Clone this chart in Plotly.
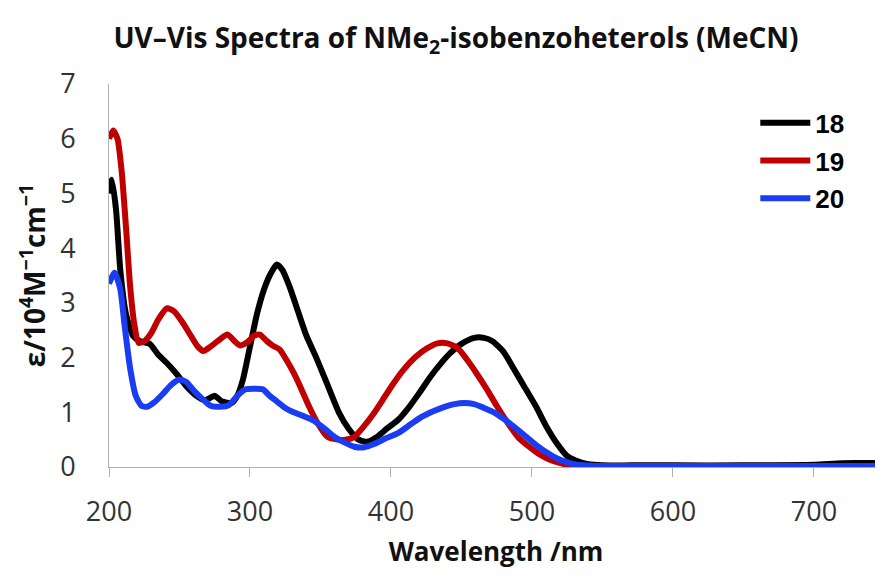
import plotly.graph_objects as go

# wavelengths (nm) and absorptivity (10^4 M^-1 cm^-1)
wl_18 = [200, 202, 205, 208, 212, 217, 222, 229, 235, 241, 248, 255, 262, 268, 275, 280,
         287, 291, 295, 300, 305, 310, 315, 319, 323, 328, 334, 340, 347, 355, 363, 370,
         377, 383, 390, 397, 405, 413, 420, 428, 435, 442, 450, 459, 466, 472, 480, 487,
         495, 503, 510, 518, 525, 531, 540, 550, 570, 600, 650, 700, 720, 749]
eps_18 = [5.0, 5.25, 4.7, 3.6, 2.8, 2.4, 2.3, 2.25, 2.05, 1.9, 1.7, 1.47, 1.3, 1.22, 1.3, 1.2,
          1.17, 1.3, 1.6, 2.2, 2.8, 3.25, 3.55, 3.7, 3.6, 3.3, 2.85, 2.4, 2.0, 1.5, 1.0, 0.7,
          0.5, 0.46, 0.55, 0.7, 0.86, 1.1, 1.35, 1.65, 1.88, 2.08, 2.25, 2.36, 2.36, 2.3, 2.1, 1.8,
          1.45, 1.1, 0.75, 0.42, 0.2, 0.12, 0.05, 0.03, 0.03, 0.03, 0.03, 0.04, 0.07, 0.07]

wl_19 = [200, 203, 206, 209, 212, 215, 218, 221, 225, 230, 235, 241, 246, 252, 258, 263,
         267, 272, 277, 284, 289, 293, 298, 303, 307, 312, 316, 321, 326, 331, 336, 342,
         348, 355, 362, 368, 374, 380, 387, 394, 401, 409, 417, 425, 433, 440, 447, 454,
         461, 468, 475, 483, 490, 498, 506, 514, 522, 530, 540, 560, 600, 700, 749]
eps_19 = [6.0, 6.15, 6.0, 5.4, 4.4, 3.3, 2.6, 2.27, 2.3, 2.45, 2.7, 2.9, 2.85, 2.65, 2.4, 2.2,
          2.12, 2.2, 2.3, 2.42, 2.3, 2.22, 2.28, 2.4, 2.42, 2.3, 2.22, 2.15, 1.95, 1.72, 1.45, 1.1,
          0.8, 0.55, 0.5, 0.5, 0.55, 0.72, 0.95, 1.22, 1.5, 1.78, 2.0, 2.16, 2.26, 2.26, 2.18, 1.96,
          1.7, 1.42, 1.12, 0.8, 0.55, 0.37, 0.22, 0.12, 0.06, 0.03, 0.02, 0.02, 0.02, 0.02, 0.02]

wl_20 = [200, 204, 208, 211, 215, 219, 223, 227, 232, 238, 244, 250, 255, 260, 266, 272,
         279, 285, 291, 297, 303, 309, 314, 319, 325, 331, 338, 345, 352, 360, 367, 374,
         381, 388, 396, 405, 414, 422, 430, 438, 445, 452, 459, 466, 473, 480, 488, 496,
         504, 512, 520, 530, 545, 560, 600, 700, 749]
eps_20 = [3.35, 3.55, 3.25, 2.6, 1.8, 1.3, 1.12, 1.1, 1.18, 1.33, 1.5, 1.6, 1.55, 1.4, 1.25, 1.12,
          1.1, 1.13, 1.3, 1.42, 1.43, 1.42, 1.3, 1.2, 1.08, 1.0, 0.93, 0.85, 0.72, 0.55, 0.45, 0.37,
          0.36, 0.42, 0.52, 0.62, 0.78, 0.92, 1.02, 1.1, 1.15, 1.17, 1.15, 1.08, 1.0, 0.88, 0.72, 0.55,
          0.38, 0.24, 0.13, 0.05, 0.02, 0.02, 0.02, 0.02, 0.02]

series = [("18", wl_18, eps_18, "#000000"),
          ("19", wl_19, eps_19, "#c00000"),
          ("20", wl_20, eps_20, "#1a3cf2")]

x_ticks = [200, 300, 400, 500, 600, 700]
y_ticks = [0, 1, 2, 3, 4, 5, 6, 7]

fig = go.Figure()
for name, x, y, col in series:
    fig.add_trace(go.Scatter(
        x=x, y=y, mode="lines", name=name, legendgroup=name,
        line=dict(color=col, width=6, shape="spline", smoothing=0.6),
    ))

# page body adds 8px around the plot div, so the figure is 8px smaller
fig.update_layout(
    width=875, height=569,
    margin=dict(l=101, r=0, t=76, b=110),
    plot_bgcolor="white", paper_bgcolor="white",
    font=dict(family="Open Sans, sans-serif", color="#333333"),
    title=dict(
        text="<b>UV–Vis Spectra of NMe<sub>2</sub>-isobenzoheterols (MeCN)</b>",
        x=0.512, xanchor="center", y=1 - 30 / 569, yanchor="middle",
        font=dict(size=28, family="Open Sans, sans-serif", color="#111111"),
    ),
    legend=dict(
        x=0.835, y=0.96, xanchor="left", yanchor="top",
        font=dict(size=26, family="Liberation Sans, Arial, sans-serif", color="black", weight="bold"),
        traceorder="grouped", tracegroupgap=1, itemwidth=50,
        bgcolor="rgba(0,0,0,0)",
    ),
    xaxis=dict(
        range=[200, 749], tickvals=x_ticks,
        showline=True, linecolor="#b0b0b0", linewidth=1,
        ticks="outside", ticklen=9, tickcolor="#b0b0b0",
        showgrid=False, zeroline=False,
        tickfont=dict(size=27, color="#333333"), ticklabelstandoff=12,
        title=dict(text="<b>Wavelength /nm</b>", font=dict(size=26, color="#111111"), standoff=14),
    ),
    yaxis=dict(
        range=[0, 7], tickvals=y_ticks,
        showline=True, linecolor="#b0b0b0", linewidth=1,
        ticks="", showgrid=False, zeroline=False,
        tickfont=dict(size=27, color="#333333"), ticklabelstandoff=27,
        title=dict(text="<b>ε/10<sup>4</sup>M<sup>−1</sup>cm<sup>−1</sup></b>",
                   font=dict(size=28, color="#111111"), standoff=6),
    ),
)

fig.write_html("out.html")
